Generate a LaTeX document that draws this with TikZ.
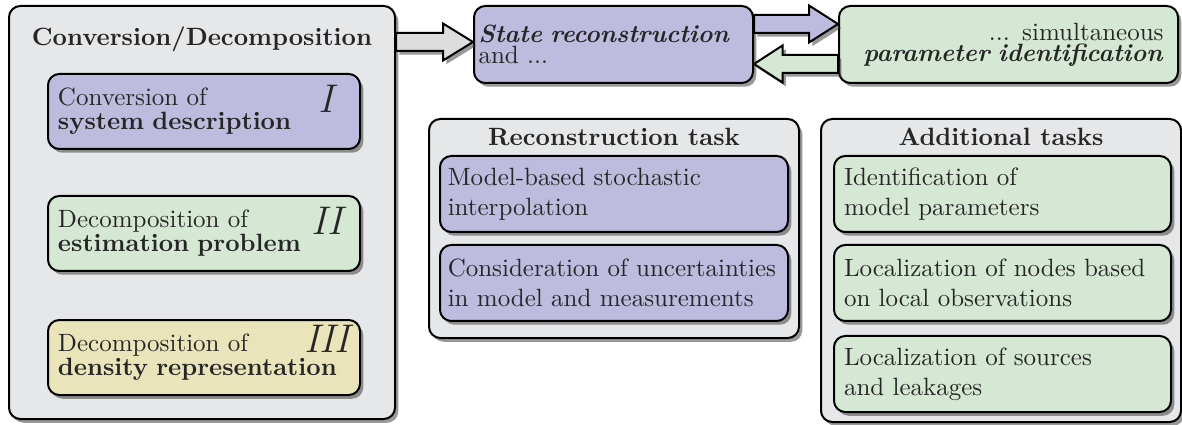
\documentclass[tikz,border=0pt]{standalone}
\usetikzlibrary{positioning, calc, shadows}

\definecolor{panelgray}{RGB}{230,231,233}
\definecolor{taskpurple}{RGB}{190,188,222}
\definecolor{taskgreen}{RGB}{212,232,211}
\definecolor{taskyellow}{RGB}{234,228,186}
\definecolor{arrowgray}{RGB}{221,221,221}

\tikzset{
  shade box/.style={drop shadow={shadow xshift=1.3pt, shadow yshift=-1.5pt, opacity=0.5, fill=black!80}},
  panel/.style={shade box, draw=black, line width=0.8pt, fill=panelgray, rounded corners=4.5pt, inner sep=0pt, anchor=north west},
  paneltitle/.style={font=\bfseries, inner sep=0pt},
  taskbox/.style={shade box, draw=black, line width=0.8pt, rounded corners=4.5pt, align=left, inner xsep=4pt, inner ysep=2pt},
  numeral/.style={font=\fontsize{16}{16}\selectfont\itshape, inner sep=0pt},
  blockarrow/.style={shade box, draw=black, line width=0.8pt, line join=miter},
}

% fat block arrow: style, start, tip, signed head length
\newcommand{\fatarrow}[4]{%
  \draw[blockarrow, #1] let \p1=(#2), \p2=(#3) in
    ({\x1},{\y1+3.6pt}) -- ({\x2-(#4)},{\y1+3.6pt}) -- ({\x2-(#4)},{\y1+7.4pt})
    -- ({\x2},{\y1}) -- ({\x2-(#4)},{\y1-7.4pt}) -- ({\x2-(#4)},{\y1-3.6pt})
    -- ({\x1},{\y1-3.6pt}) -- cycle;}

\begin{document}
\begin{tikzpicture}[x=0.4pt, y=-0.4pt, node distance=4.4pt, every node/.style={text=black!85}]
  \useasboundingbox (0,0) rectangle (1182,425);

  % Conversion/Decomposition panel on the left
  \node[panel, minimum width=154.4pt, minimum height=165.2pt] (conv) at (8,5) {};
  \node[paneltitle, below=8.4pt of conv.north] (convtitle) {Conversion/Decomposition};
  \node[taskbox, fill=taskpurple, text width=116.8pt, minimum height=30pt, anchor=north west] (sysdesc) at (47,73)
    {Conversion of\\[-2.4pt]\textbf{system description}};
  \node[taskbox, fill=taskgreen, text width=116.8pt, minimum height=30pt, below=18pt of sysdesc] (estprob)
    {Decomposition of\\[-2.4pt]\textbf{estimation problem}};
  \node[taskbox, fill=taskyellow, text width=116.8pt, minimum height=30pt, below=18.8pt of estprob] (densrep)
    {Decomposition of\\[-2.4pt]\textbf{density representation}};
  \node[numeral] (numI) at ($(sysdesc.north west)+(279,26)$) {I};
  \node[numeral] (numII) at ($(estprob.north west)+(280,26)$) {II};
  \node[numeral] (numIII) at ($(densrep.north west)+(280,20)$) {III};

  % top row: state reconstruction and parameter identification
  \node[taskbox, fill=taskpurple, text width=108pt, inner xsep=1.8pt, minimum height=30.8pt, anchor=north west] (state) at (473,5)
    {\textbf{\textit{State reconstruction}}\\[-3.5pt]and ...};
  \node[taskbox, fill=taskgreen, text width=124pt, inner xsep=5.8pt, align=right, minimum height=30.8pt, anchor=north west] (ident) at (838,5)
    {... simultaneous\\[-3.5pt]\textbf{\textit{parameter identification}}};

  % reconstruction task panel
  \node[panel, minimum width=148pt, minimum height=87.6pt] (recpanel) at (428,118) {};
  \node[paneltitle, below=3.9pt of recpanel.north] (rectitle) {Reconstruction task};
  \node[taskbox, fill=taskpurple, text width=133pt, inner xsep=3.1pt, minimum height=30.4pt, anchor=north west] (interp) at (439,155)
    {Model-based stochastic\\interpolation};
  \node[taskbox, fill=taskpurple, text width=133pt, inner xsep=3.1pt, minimum height=30.4pt, below=of interp] (uncert)
    {Consideration of uncertainties\\in model and measurements};

  % additional tasks panel
  \node[panel, minimum width=144pt, minimum height=121.2pt] (addpanel) at (820,118) {};
  \node[paneltitle, below=3.9pt of addpanel.north] (addtitle) {Additional tasks};
  \node[taskbox, fill=taskgreen, text width=126.8pt, minimum height=30.4pt, anchor=north west] (modpar) at (833,155)
    {Identification of\\model parameters};
  \node[taskbox, fill=taskgreen, text width=126.8pt, minimum height=30.4pt, below=of modpar] (locnodes)
    {Localization of nodes based\\on local observations};
  \node[taskbox, fill=taskgreen, text width=126.8pt, minimum height=30.4pt, below=5.2pt of locnodes] (locsrc)
    {Localization of sources\\and leakages};

  % block arrows between the boxes
  \coordinate (convout) at (conv.east |- 0,42);
  \coordinate (statein) at (state.west |- 0,42);
  \coordinate (stateout) at (state.east |- 0,24);
  \coordinate (identin) at (ident.west |- 0,24);
  \coordinate (identout) at (ident.west |- 0,64);
  \coordinate (stateback) at (state.east |- 0,64);
  \fatarrow{fill=arrowgray}{convout}{statein}{12pt}
  \fatarrow{fill=taskpurple}{stateout}{identin}{11.6pt}
  \fatarrow{fill=taskgreen}{identout}{stateback}{-11.4pt}
\end{tikzpicture}
\end{document}
